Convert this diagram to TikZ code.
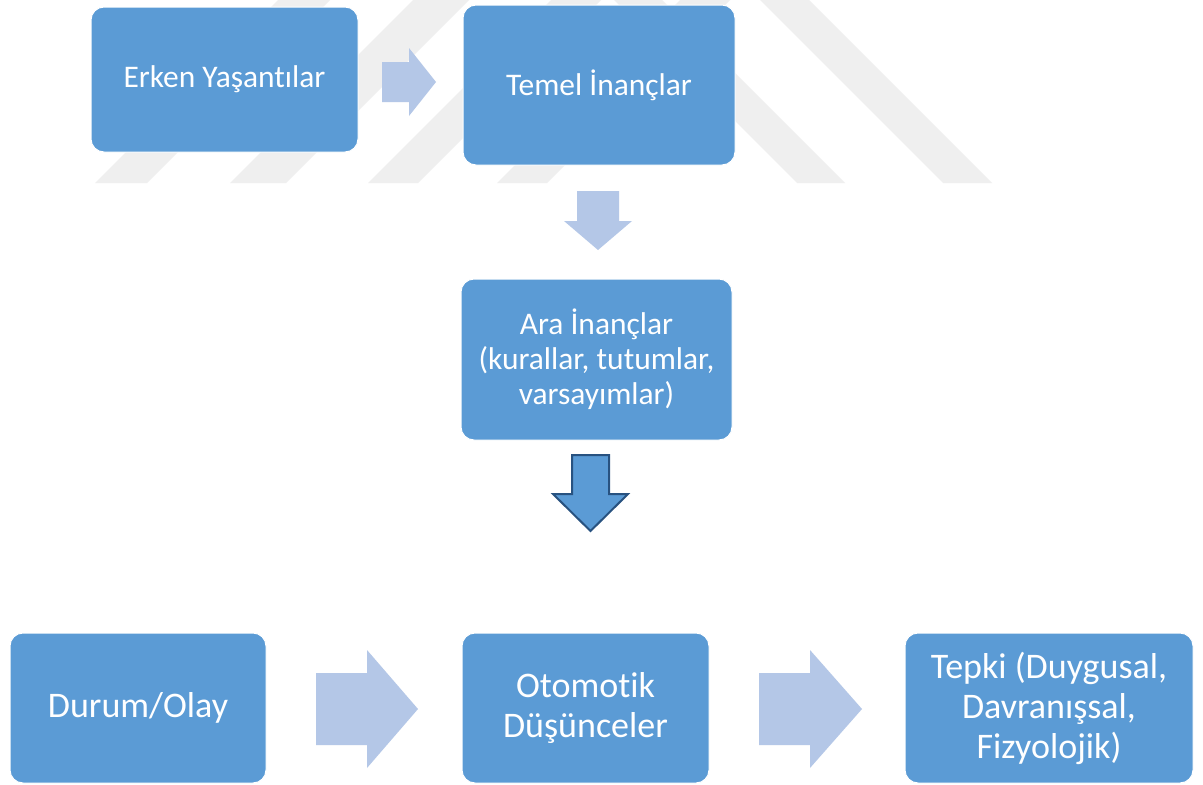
\documentclass[tikz,border=0pt]{standalone}
\usepackage{fontspec}
\setmainfont{Carlito}[Ligatures=NoCommon]

\definecolor{boxblue}{RGB}{91,155,213}
\definecolor{arrowblue}{RGB}{180,199,231}
\definecolor{arrowline}{RGB}{40,82,128}
\definecolor{markgray}{RGB}{239,239,239}

\newlength\px
\setlength\px{0.75pt}

\tikzset{
  box/.style={draw=white, line width=1\px, fill=boxblue, rounded corners=13\px,
    text=white, align=center, inner sep=0pt},
  smallbox/.style={box, font=\fontsize{23.6}{26.3}\selectfont},
  bigbox/.style={box, font=\fontsize{27}{30}\selectfont},
  lightarrow/.style={fill=arrowblue},
  darkarrow/.style={fill=boxblue, draw=arrowline, line width=2\px, line join=miter},
  band/.style={fill=markgray}
}

\begin{document}
\begin{tikzpicture}[x=0.75pt, y=0.75pt]

    \useasboundingbox (0,0) rectangle (1203,-785);
    \fill[white] (0,0) rectangle (1203,-785);

    % Watermark stripes
    \begin{scope}
        \clip (0,0) rectangle (1203,-183);
        \foreach \xb/\w in {95/52, 230/56, 368/50, 497/50}
            \fill[band] (\xb,-183) -- ++(\w,0) -- ++(183,183) -- ++(-\w,0) -- cycle;
        \foreach \xb/\w in {797/48, 943/49}
            \fill[band] (\xb,-183) -- ++(\w,0) -- ++(-183,183) -- ++(-\w,0) -- cycle;
    \end{scope}

    % Upper chain
    \node[smallbox, minimum width=267\px, minimum height=145\px] (erken) at (224.5,-79.5) {Erken Yaşantılar};
    \node[smallbox, minimum width=272\px, minimum height=160\px] (temel) at (599,-85) {Temel İnançlar};
    \node[smallbox, minimum width=271\px, minimum height=161\px] (ara) at (596.5,-359.5)
        {Ara İnançlar\\(kurallar, tutumlar,\\varsayımlar)};

    % Lower row
    \node[bigbox, minimum width=256\px, minimum height=150\px] (durum) at (138,-708) {Durum/Olay};
    \node[bigbox, minimum width=247\px, minimum height=150\px] (otomotik) at (585.5,-708) {Otomotik\\Düşünceler};
    \node[bigbox, minimum width=288\px, minimum height=150\px] (tepki) at (1049,-708)
        {Tepki (Duygusal,\\Davranışsal,\\Fizyolojik)};

    % Block arrows
    \fill[lightarrow] (382,-62) -- (409,-62) -- (409,-48) -- (436,-82) -- (409,-116) -- (409,-102) -- (382,-102) -- cycle;
    \fill[lightarrow] (577,-191) -- (619,-191) -- (619,-221) -- (632,-221) -- (598,-250) -- (564,-221) -- (577,-221) -- cycle;
    \draw[darkarrow] (572,-455) -- (609,-455) -- (609,-494) -- (628,-494) -- (590.5,-531) -- (553,-494) -- (572,-494) -- cycle;
    \fill[lightarrow] (316,-673) -- (367,-673) -- (367,-650) -- (418,-709) -- (367,-768) -- (367,-745) -- (316,-745) -- cycle;
    \fill[lightarrow] (759,-673) -- (810,-673) -- (810,-650) -- (862,-709) -- (810,-768) -- (810,-745) -- (759,-745) -- cycle;

\end{tikzpicture}
\end{document}
